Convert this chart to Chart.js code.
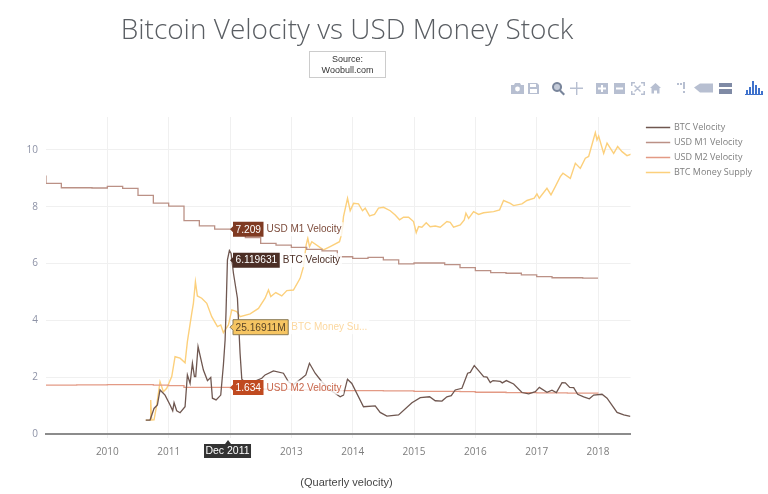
<!DOCTYPE html>
<html>
<head>
<meta charset="utf-8">
<title>Bitcoin Velocity vs USD Money Stock</title>
<script src="https://cdn.jsdelivr.net/npm/chart.js@4"></script>
<style>
  html, body { margin: 0; padding: 0; background: #fff; overflow: hidden; }
  #wrap { position: relative; width: 768px; height: 494px; }
  #chart { position: absolute; left: 0; top: 0; }
  #title { position: absolute; left: 0; width: 694px; top: 9px; text-align: center; font: 300 28px "Open Sans", sans-serif; color: #5a5e63; }
  #source { position: absolute; left: 309px; top: 51px; width: 75px; border: 1px solid #ccc; text-align: center; font: 9px/11px "Liberation Sans", sans-serif; color: #333; padding-top: 2px; height: 23px; }
  #note { position: absolute; left: 0; width: 693px; top: 476px; text-align: center; font: 11px "Liberation Sans", sans-serif; color: #444; }
  #tools { position: absolute; left: 505px; top: 78px; }
</style>
</head>
<body>
<div id="wrap">
  <canvas id="chart" width="768" height="494"></canvas>
  <div id="title">Bitcoin Velocity vs USD Money Stock</div>
  <div id="source">Source:<br>Woobull.com</div>
  <div id="note">(Quarterly velocity)</div>
  <svg id="tools" width="263" height="20" viewBox="505 78 263 20">
    <g fill="#b7bfd1">
      <path d="M511 85h3l1-2h5l1 2h3v9h-13z"/><circle cx="517.5" cy="89" r="2.4" fill="#fff"/>
      <path d="M528 83h9l2 2v9h-11zM530 84v3h6v-3zM530 89v4h7v-4z" fill-rule="evenodd"/>
      <path d="M570 87.5h13v1.4h-13zM576 82h1.4v13h-1.4z"/>
      <path d="M596 83h12v11h-12zM601 85v2.5h-3v2h3V92h2v-2.500h3v-2h-3V85z" fill-rule="evenodd"/>
      <path d="M614 83h11v11h-11zM616 87.500v2h7v-2z" fill-rule="evenodd"/>
      <path d="M631 82h4v1.500h-2.500V86H631zM641 82h4v4h-1.500v-2.500H641zM631 91h1.500v2.500H635V95h-4zM643.500 91h1.500v4h-4v-1.500h2.500zM635 85l6 6-1 1-6-6zM640 85l1 1-6 6-1-1z"/>
      <path d="M650 88l5.500-5 5.500 5h-1.500v5.500h-2.500v-3h-3v3h-2.500V88z"/>
      <path d="M683 82h2v7h-2zM683 91h2v2h-2zM677 83h2v2h-2zM680 83h2v2h-2z"/>
      <path d="M694 87.500l6-4h13v9h-13z"/>
    </g>
    <path d="M719 83h13v4h-13zM719 89h13v5h-13z" fill="#7f8aa5"/>
    <path d="M557 82a5 5 0 1 0 .1 0zM561 90l4 4-1.500 1.500-4-4z" fill="#79859b"/>
    <circle cx="557" cy="87" r="3" fill="#c3cad8"/>
    <path d="M745 94h18v1h-18zM746 90h2v4h-2zM749 87h2v7h-2zM752 81h2v13h-2zM755 85h2v9h-2zM758 88h2v6h-2zM761 91h2v3h-2z" fill="#3f72cc"/>
  </svg>
</div>
<script>
// nilai, sumbu x dalam tahun desimal
const tickYears = [2010, 2011, 2012, 2013, 2014, 2015, 2016, 2017, 2018];
const tickValues = [0, 2, 4, 6, 8, 10];
const seriesNames = ['BTC Velocity', 'USD M1 Velocity', 'USD M2 Velocity', 'BTC Money Supply'];

const btcYears = [2010.626, 2010.696, 2010.761, 2010.816, 2010.859, 2010.941, 2011.023, 2011.066, 2011.088, 2011.131, 2011.186, 2011.267, 2011.305, 2011.349, 2011.387, 2011.42, 2011.441, 2011.479, 2011.566, 2011.632, 2011.686, 2011.713, 2011.773, 2011.849, 2011.892, 2011.92, 2011.936, 2011.958, 2011.99, 2012.018, 2012.056, 2012.121, 2012.164, 2012.192, 2012.27, 2012.4, 2012.518, 2012.572, 2012.708, 2012.871, 2012.953, 2013.03, 2013.17, 2013.236, 2013.295, 2013.388, 2013.497, 2013.633, 2013.796, 2013.85, 2013.915, 2013.986, 2014.176, 2014.367, 2014.448, 2014.558, 2014.748, 2014.966, 2015.102, 2015.254, 2015.346, 2015.455, 2015.536, 2015.607, 2015.672, 2015.781, 2015.874, 2015.917, 2015.982, 2016.053, 2016.135, 2016.19, 2016.243, 2016.287, 2016.407, 2016.439, 2016.505, 2016.624, 2016.76, 2016.869, 2016.978, 2017.043, 2017.168, 2017.249, 2017.32, 2017.413, 2017.467, 2017.538, 2017.603, 2017.668, 2017.766, 2017.858, 2017.929, 2018.065, 2018.147, 2018.31, 2018.419, 2018.527];
const btcVelocity = [0.49, 0.49, 0.9, 1.02, 1.55, 1.37, 1.02, 0.82, 1.1, 0.82, 0.75, 0.96, 2.08, 1.78, 2.49, 2.02, 2.02, 3.08, 2.25, 1.88, 1.99, 1.26, 1.2, 1.37, 2.43, 3.31, 4.37, 6.13, 6.46, 6.36, 5.66, 4.78, 2.84, 1.93, 1.78, 1.85, 1.96, 2.08, 2.22, 2.14, 1.84, 1.73, 1.96, 2.08, 2.49, 2.14, 1.84, 1.55, 1.31, 1.37, 1.93, 1.78, 0.96, 0.99, 0.76, 0.63, 0.67, 1.1, 1.28, 1.31, 1.17, 1.16, 1.31, 1.35, 1.55, 1.61, 2.14, 2.17, 2.41, 2.23, 2.02, 2.0, 1.81, 1.88, 1.85, 1.8, 1.88, 1.76, 1.46, 1.41, 1.49, 1.64, 1.47, 1.54, 1.46, 1.81, 1.8, 1.64, 1.63, 1.4, 1.31, 1.24, 1.37, 1.4, 1.26, 0.76, 0.67, 0.62];

const m1Years = [2009, 2009, 2009.25, 2009.5, 2009.75, 2010, 2010.25, 2010.5, 2010.75, 2011, 2011.25, 2011.5, 2011.75, 2012, 2012.25, 2012.5, 2012.75, 2013, 2013.25, 2013.5, 2013.75, 2014, 2014.25, 2014.5, 2014.75, 2015, 2015.25, 2015.5, 2015.75, 2016, 2016.25, 2016.5, 2016.75, 2017, 2017.25, 2017.5, 2017.75, 2018];
const m1Velocity = [9.1, 8.82, 8.67, 8.67, 8.66, 8.72, 8.65, 8.4, 8.13, 8.02, 7.51, 7.33, 7.21, 7.21, 6.91, 6.71, 6.65, 6.57, 6.5, 6.45, 6.24, 6.18, 6.22, 6.13, 5.99, 6.02, 6.02, 5.96, 5.86, 5.75, 5.68, 5.66, 5.6, 5.54, 5.5, 5.5, 5.49, 5.49];

const m2Years = [2009, 2009.25, 2009.5, 2009.75, 2010, 2010.25, 2010.5, 2010.75, 2011, 2011.25, 2011.5, 2011.75, 2012, 2012.25, 2012.5, 2012.75, 2013, 2013.25, 2013.5, 2013.75, 2014, 2014.25, 2014.5, 2014.75, 2015, 2015.25, 2015.5, 2015.75, 2016, 2016.25, 2016.5, 2016.75, 2017, 2017.25, 2017.5, 2017.75, 2018];
const m2Velocity = [1.72, 1.72, 1.73, 1.73, 1.74, 1.74, 1.74, 1.72, 1.7, 1.64, 1.64, 1.64, 1.634, 1.6, 1.58, 1.57, 1.56, 1.55, 1.54, 1.53, 1.525, 1.525, 1.52, 1.52, 1.5, 1.5, 1.5, 1.49, 1.47, 1.47, 1.46, 1.46, 1.45, 1.45, 1.44, 1.44, 1.43];

const moneyYears = [2010.626, 2010.696, 2010.707, 2010.723, 2010.761, 2010.805, 2010.859, 2010.914, 2010.968, 2011.05, 2011.104, 2011.186, 2011.267, 2011.305, 2011.376, 2011.403, 2011.436, 2011.468, 2011.539, 2011.621, 2011.702, 2011.795, 2011.849, 2011.892, 2011.974, 2012.029, 2012.11, 2012.164, 2012.328, 2012.464, 2012.572, 2012.627, 2012.665, 2012.746, 2012.844, 2012.926, 2013.034, 2013.143, 2013.198, 2013.241, 2013.268, 2013.296, 2013.334, 2013.524, 2013.633, 2013.785, 2013.823, 2013.85, 2013.916, 2013.959, 2014.014, 2014.095, 2014.16, 2014.204, 2014.275, 2014.356, 2014.421, 2014.503, 2014.612, 2014.693, 2014.764, 2014.829, 2014.911, 2014.992, 2015.036, 2015.074, 2015.128, 2015.199, 2015.264, 2015.346, 2015.427, 2015.536, 2015.59, 2015.645, 2015.754, 2015.819, 2015.846, 2015.89, 2015.971, 2016.053, 2016.134, 2016.297, 2016.395, 2016.46, 2016.57, 2016.624, 2016.76, 2016.841, 2016.96, 2017.004, 2017.042, 2017.167, 2017.233, 2017.303, 2017.385, 2017.428, 2017.548, 2017.63, 2017.711, 2017.793, 2017.847, 2017.885, 2017.956, 2017.983, 2018.01, 2018.092, 2018.147, 2018.255, 2018.32, 2018.391, 2018.472, 2018.538];
const moneySupply = [0.49, 0.49, 1.2, 0.49, 0.5, 1.02, 1.84, 1.49, 1.61, 2.02, 2.72, 2.67, 2.51, 3.25, 4.25, 4.6, 5.36, 4.86, 4.78, 4.6, 4.13, 3.78, 3.84, 3.57, 3.84, 4.37, 4.31, 4.13, 4.23, 4.42, 4.78, 5.07, 4.84, 4.98, 4.86, 5.05, 5.07, 5.48, 5.89, 6.65, 6.89, 6.6, 6.77, 6.48, 6.6, 6.77, 7.07, 7.65, 8.3, 7.86, 8.12, 8.1, 7.86, 7.95, 7.68, 7.73, 7.95, 7.98, 7.86, 7.71, 7.54, 7.63, 7.63, 7.48, 7.09, 7.3, 7.28, 7.44, 7.3, 7.32, 7.28, 7.48, 7.45, 7.28, 7.36, 7.54, 7.77, 7.59, 7.83, 7.73, 7.79, 7.83, 7.89, 8.22, 8.12, 8.04, 8.1, 8.22, 8.3, 8.45, 8.3, 8.65, 8.42, 8.71, 9.06, 9.18, 9.0, 9.53, 9.35, 9.71, 9.77, 10.06, 10.61, 10.35, 10.49, 9.88, 10.24, 9.88, 10.12, 9.94, 9.8, 9.85];

// tag hover pada Dec 2011
const hoverYear = 2012;
const hoverLabel = 'Dec 2011';
const hoverTexts = ['7.209', '6.119631', '25.16911M', '1.634'];
const hoverNames = ['USD M1 Velocity', 'BTC Velocity', 'BTC Money Su...', 'USD M2 Velocity'];
const hoverValues = [7.209, 6.119631, 3.76, 1.634];
const hoverBg = ['#7f3a22', '#4b2e25', '#f6c562', '#c04a20'];
const hoverFg = ['#fff', '#fff', '#5a4526', '#fff'];
const hoverNameColor = ['#7d4c3c', '#4b2e25', '#fcd8a0', '#c8674c'];

function toPoints(xs, ys) {
    return xs.map(function(x, i) { return { x: x, y: ys[i] }; });
}

// gambar tag hover di atas garis
const hoverPlugin = {
    id: 'hoverTags',
    afterUpdate: function(chart) {
        // geser legend sedikit ke kanan dari area plot
        chart.legend.left += 10;
        chart.legend.right += 16;
    },
    afterDatasetsDraw: function(chart) {
        const ctx = chart.ctx;
        const xs = chart.scales.x, ys = chart.scales.y;
        const px = xs.getPixelForValue(hoverYear);
        ctx.save();
        ctx.textBaseline = 'middle';
        hoverTexts.forEach(function(text, i) {
            const py = ys.getPixelForValue(hoverValues[i]);
            ctx.font = '10.2px "Liberation Sans", sans-serif';
            const w = ctx.measureText(text).width + 5;
            ctx.font = '10px "Liberation Sans", sans-serif';
            const nameW = ctx.measureText(hoverNames[i]).width;
            ctx.fillStyle = 'rgba(255,255,255,0.8)';
            ctx.fillRect(px + 3 + w, py - 7, nameW + 5, 14);
            ctx.fillStyle = hoverBg[i];
            ctx.beginPath();
            ctx.moveTo(px, py);
            ctx.lineTo(px + 3, py - 3);
            ctx.lineTo(px + 3, py - 7.5);
            ctx.lineTo(px + 3 + w, py - 7.5);
            ctx.lineTo(px + 3 + w, py + 7.5);
            ctx.lineTo(px + 3, py + 7.5);
            ctx.lineTo(px + 3, py + 3);
            ctx.closePath();
            ctx.fill();
            if (i === 2) { ctx.strokeStyle = '#8a7a55'; ctx.stroke(); }
            ctx.font = '10.2px "Liberation Sans", sans-serif';
            ctx.fillStyle = hoverFg[i];
            ctx.textAlign = 'left';
            ctx.fillText(text, px + 5.5, py + 0.5);
            ctx.font = '10px "Liberation Sans", sans-serif';
            ctx.fillStyle = hoverNameColor[i];
            ctx.fillText(hoverNames[i], px + 6 + w, py + 0.5);
        });
        // label tanggal di bawah sumbu
        const axisY = ys.getPixelForValue(0);
        ctx.fillStyle = '#333';
        ctx.beginPath();
        ctx.moveTo(px - 2, axisY + 6);
        ctx.lineTo(px + 1, axisY + 10);
        ctx.lineTo(px + 21, axisY + 10);
        ctx.lineTo(px + 21, axisY + 24);
        ctx.lineTo(px - 26, axisY + 24);
        ctx.lineTo(px - 26, axisY + 10);
        ctx.lineTo(px - 5, axisY + 10);
        ctx.closePath();
        ctx.fill();
        ctx.font = '10.5px "Liberation Sans", sans-serif';
        ctx.fillStyle = '#fff';
        ctx.textAlign = 'center';
        ctx.fillText(hoverLabel, px - 2.5, axisY + 17.5);
        ctx.restore();
    }
};

var ctx = document.getElementById('chart').getContext('2d');
var velocityChart = new Chart(ctx, {
    type: 'line',
    plugins: [hoverPlugin],
    data: {
        datasets: [{
            label: seriesNames[0],
            data: toPoints(btcYears, btcVelocity),
            borderColor: '#6f5750',
            backgroundColor: '#6f5750',
            borderWidth: 1.3,
            pointRadius: 0
        },
        {
            label: seriesNames[1],
            data: toPoints(m1Years, m1Velocity),
            borderColor: '#bb9186',
            backgroundColor: '#bb9186',
            borderWidth: 1.3,
            stepped: 'before',
            pointRadius: 0
        },
        {
            label: seriesNames[2],
            data: toPoints(m2Years, m2Velocity),
            borderColor: '#e39a85',
            backgroundColor: '#e39a85',
            borderWidth: 1.3,
            stepped: 'before',
            pointRadius: 0
        },
        {
            label: seriesNames[3],
            data: toPoints(moneyYears, moneySupply),
            borderColor: '#fcd07c',
            backgroundColor: '#fcd07c',
            borderWidth: 1.4,
            pointRadius: 0
        }]
    },
    options: {
        responsive: false,
        animation: false,
        events: [],
        layout: { padding: { top: 117, left: 0, right: 16, bottom: 0 } },
        plugins: {
            title: { display: false },
            tooltip: { enabled: false },
            legend: {
                position: 'right',
                align: 'start',
                labels: {
                    boxWidth: 23,
                    boxHeight: 0.1,
                    padding: 6,
                    color: '#7f7f7f',
                    font: { family: '"Open Sans", sans-serif', size: 9 }
                }
            }
        },
        scales: {
            x: {
                type: 'linear',
                min: 2009,
                max: 2018.53,
                afterBuildTicks: function(axis) {
                    axis.ticks = tickYears.map(function(v) { return { value: v }; });
                },
                afterFit: function(axis) { axis.height = 60; },
                grid: { color: '#f0f0f0', tickLength: 4, drawTicks: true },
                border: { color: '#8c8c8c', width: 2 },
                ticks: {
                    padding: 8,
                    maxRotation: 0,
                    color: '#7d7d7d',
                    font: { family: '"Open Sans", sans-serif', size: 10 },
                    callback: function(v) { return v === hoverYear ? '' : String(v); }
                }
            },
            y: {
                min: 0,
                max: 11.16,
                afterBuildTicks: function(axis) {
                    axis.ticks = tickValues.map(function(v) { return { value: v }; });
                },
                afterFit: function(axis) { axis.width = 46; },
                grid: { color: '#f0f0f0', drawTicks: false },
                border: { display: false },
                ticks: {
                    padding: 8,
                    color: '#8d92a6',
                    font: { family: '"Open Sans", sans-serif', size: 10 }
                }
            }
        }
    }
});
</script>
</body>
</html>
